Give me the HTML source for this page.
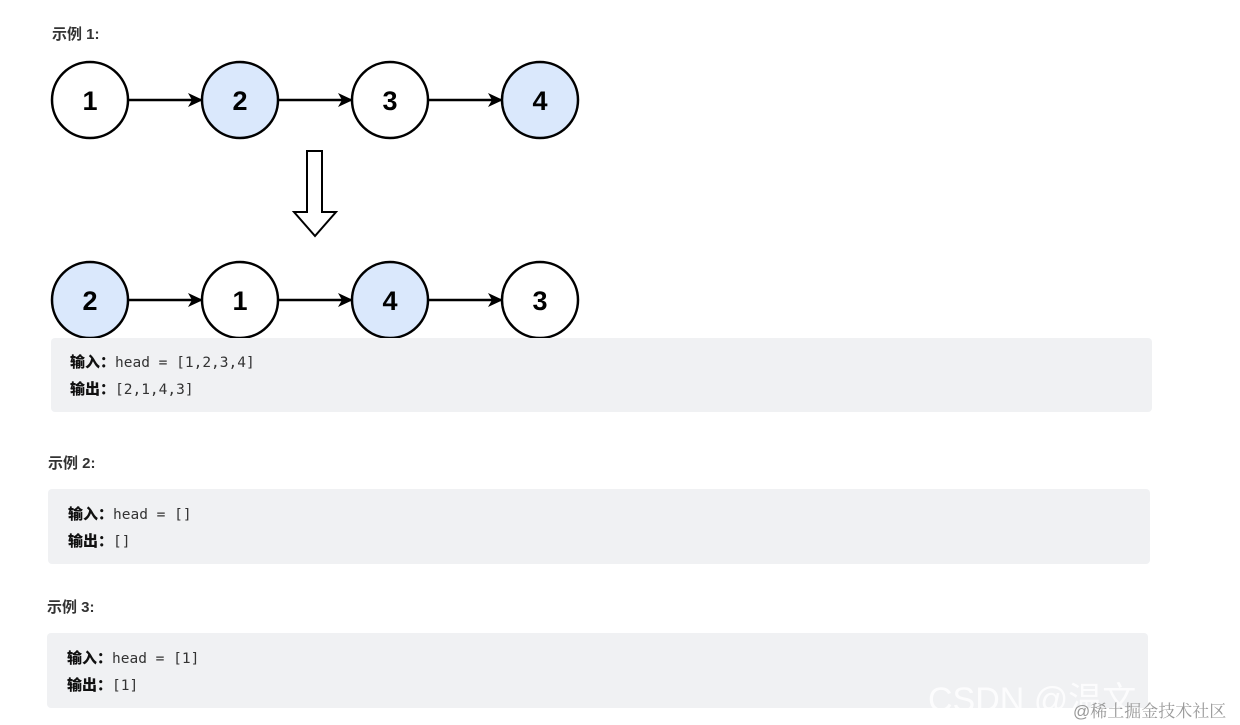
<!DOCTYPE html>
<html><head><meta charset="utf-8"><style>
body{margin:0;width:1240px;height:725px;background:#fff;position:relative;overflow:hidden;font-family:"Liberation Sans","Noto Sans CJK SC",sans-serif}
.t{position:absolute;font-size:15px;font-weight:bold;color:#333}
.box{position:absolute;background:#f0f1f3;border-radius:4px}
.ln{position:absolute;font-size:15px;color:#262626;line-height:25px;white-space:pre}
.ln b{font-family:"Noto Sans CJK SC",sans-serif;color:#111;font-weight:900}
.ln span{font-family:"DejaVu Sans Mono",monospace;font-size:14.5px;color:#333}
</style></head><body>
<div class="t" style="left:52px;top:23px">示例 1:</div>
<svg style="position:absolute;left:0;top:0" width="1240" height="340">
<defs><marker id="a" markerWidth="16" markerHeight="14" refX="14" refY="7" orient="auto" markerUnits="userSpaceOnUse"><path d="M0,0 L15,7 L0,14 L4,7z" fill="#000"/></marker></defs>
<g stroke="#000" stroke-width="2.5" font-family="Liberation Sans,sans-serif" font-weight="bold" font-size="27" text-anchor="middle">
<line x1="128" y1="100" x2="202" y2="100" marker-end="url(#a)"/>
<line x1="278" y1="100" x2="352" y2="100" marker-end="url(#a)"/>
<line x1="428" y1="100" x2="502" y2="100" marker-end="url(#a)"/>
<line x1="128" y1="300" x2="202" y2="300" marker-end="url(#a)"/>
<line x1="278" y1="300" x2="352" y2="300" marker-end="url(#a)"/>
<line x1="428" y1="300" x2="502" y2="300" marker-end="url(#a)"/>
<circle cx="90" cy="100" r="38" fill="#fff"/><circle cx="240" cy="100" r="38" fill="#dae8fc"/>
<circle cx="390" cy="100" r="38" fill="#fff"/><circle cx="540" cy="100" r="38" fill="#dae8fc"/>
<circle cx="90" cy="300" r="38" fill="#dae8fc"/><circle cx="240" cy="300" r="38" fill="#fff"/>
<circle cx="390" cy="300" r="38" fill="#dae8fc"/><circle cx="540" cy="300" r="38" fill="#fff"/>
<path d="M307,151 H322 V212 H336 L315,236 L294,212 H307 Z" fill="#fff" stroke-width="2"/>
<g stroke="none" fill="#000">
<text x="90" y="110">1</text><text x="240" y="110">2</text><text x="390" y="110">3</text><text x="540" y="110">4</text>
<text x="90" y="310">2</text><text x="240" y="310">1</text><text x="390" y="310">4</text><text x="540" y="310">3</text>
</g></g></svg>
<div class="box" style="left:51px;top:338px;width:1101px;height:74px"></div>
<div class="ln" style="left:70px;top:349px"><b>输入：</b><span>head = [1,2,3,4]</span>
<b>输出：</b><span>[2,1,4,3]</span></div>
<div class="t" style="left:48px;top:452px">示例 2:</div>
<div class="box" style="left:48px;top:489px;width:1102px;height:75px"></div>
<div class="ln" style="left:68px;top:501px"><b>输入：</b><span>head = []</span>
<b>输出：</b><span>[]</span></div>
<div class="t" style="left:47px;top:596px">示例 3:</div>
<div class="box" style="left:47px;top:633px;width:1101px;height:75px"></div>
<div class="ln" style="left:67px;top:645px"><b>输入：</b><span>head = [1]</span>
<b>输出：</b><span>[1]</span></div>
<div style="position:absolute;left:928px;top:672px;font-size:34px;color:rgba(255,255,255,.8);font-family:'Liberation Sans','Noto Sans CJK SC',sans-serif">CSDN @温文</div>
<div style="position:absolute;left:1073px;top:697px;font-size:17px;color:#999;font-family:'Liberation Sans','Noto Serif CJK SC',serif">@稀土掘金技术社区</div>
</body></html>
